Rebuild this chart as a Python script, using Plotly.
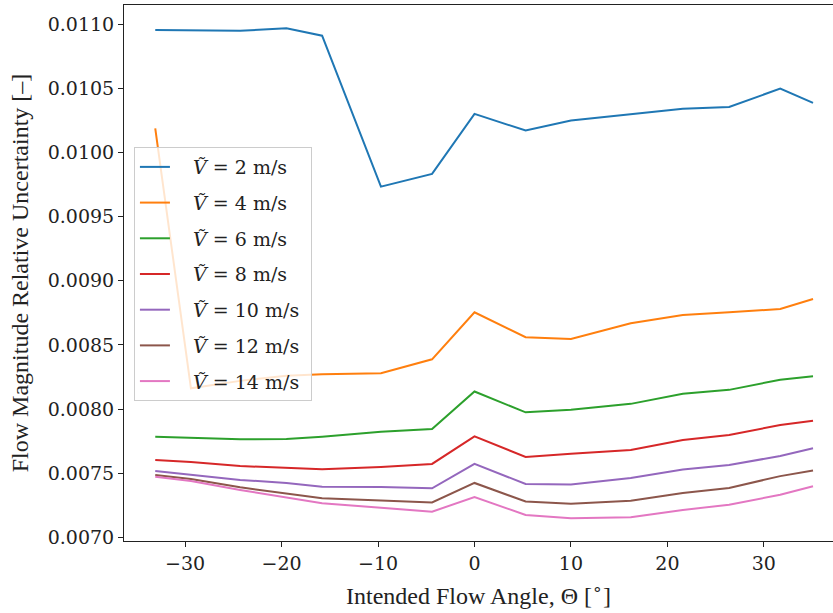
import plotly.graph_objects as go

angles = [-33.1, -29.4, -24.3, -19.5, -15.8, -9.7, -4.4, 0.0, 5.3, 10.0, 16.2, 21.6, 26.4, 31.7, 35.1]

v2 = [0.010953, 0.010950, 0.010948, 0.010966, 0.010909, 0.009733, 0.009832, 0.010300,
      0.010170, 0.010248, 0.010295, 0.010339, 0.010353, 0.010497, 0.010385]
v4 = [0.010187, 0.008162, 0.008220, 0.008260, 0.008271, 0.008279, 0.008388, 0.008754,
      0.008560, 0.008546, 0.008669, 0.008733, 0.008754, 0.008780, 0.008858]
v6 = [0.007785, 0.007779, 0.007765, 0.007767, 0.007785, 0.007824, 0.007845, 0.008137,
      0.007975, 0.007996, 0.008041, 0.008119, 0.008150, 0.008229, 0.008256]
v8 = [0.007604, 0.007588, 0.007557, 0.007541, 0.007531, 0.007549, 0.007573, 0.007788,
      0.007627, 0.007653, 0.007682, 0.007760, 0.007799, 0.007876, 0.007910]
v10 = [0.007518, 0.007491, 0.007448, 0.007425, 0.007396, 0.007393, 0.007383, 0.007574,
       0.007417, 0.007412, 0.007464, 0.007530, 0.007564, 0.007635, 0.007695]
v12 = [0.007487, 0.007456, 0.007391, 0.007344, 0.007305, 0.007288, 0.007273, 0.007425,
       0.007280, 0.007263, 0.007286, 0.007347, 0.007386, 0.007478, 0.007522]
v14 = [0.007474, 0.007440, 0.007370, 0.007313, 0.007266, 0.007232, 0.007201, 0.007315,
       0.007176, 0.007150, 0.007157, 0.007215, 0.007255, 0.007333, 0.007399]

speeds = ["2", "4", "6", "8", "10", "12", "14"]
series = [v2, v4, v6, v8, v10, v12, v14]
colors = ["#1f77b4", "#ff7f0e", "#2ca02c", "#d62728", "#9467bd", "#8c564b", "#e377c2"]

fig = go.Figure()
for s, vals, c in zip(speeds, series, colors):
    fig.add_trace(go.Scatter(
        x=angles, y=vals, mode="lines",
        line=dict(color=c, width=2),
        name=f"\u00a0\u00a0\u00a0<i>Ṽ</i> = {s} m/s\u00a0",
        legendgroup=s,
    ))

axis_font = dict(family="DejaVu Serif", size=19, color="#222222")
title_font = dict(family="Liberation Serif", size=24, color="#222222")

fig.update_layout(
    width=833, height=613,
    margin=dict(l=124, r=0, t=5, b=72),
    paper_bgcolor="white", plot_bgcolor="white",
    showlegend=True,
    legend=dict(
        x=0.014, y=0.735, xanchor="left", yanchor="top",
        bgcolor="rgba(255,255,255,0.8)", bordercolor="#cccccc", borderwidth=1,
        font=dict(family="DejaVu Serif", size=19, color="#222222"),
        tracegroupgap=8,
    ),
)
fig.update_xaxes(
    range=[-36.34, 37.17], tickmode="linear", tick0=-30, dtick=10,
    showgrid=False, zeroline=False,
    showline=True, linecolor="#222222", linewidth=1, mirror=True,
    ticks="outside", ticklen=5, tickwidth=1, tickcolor="#222222",
    tickfont=axis_font,
    title=dict(text="Intended Flow Angle, Θ [<sup>∘</sup>]", font=title_font, standoff=14),
)
fig.update_yaxes(
    range=[0.0069727, 0.011148], tickmode="linear", tick0=0.007, dtick=0.0005,
    tickformat=".4f",
    showgrid=False, zeroline=False,
    showline=True, linecolor="#222222", linewidth=1, mirror=False,
    ticks="outside", ticklen=5, tickwidth=1, tickcolor="#222222",
    tickfont=axis_font,
    title=dict(text="Flow Magnitude Relative Uncertainty [–]", font=title_font, standoff=12),
)

fig.write_html("out.html")
